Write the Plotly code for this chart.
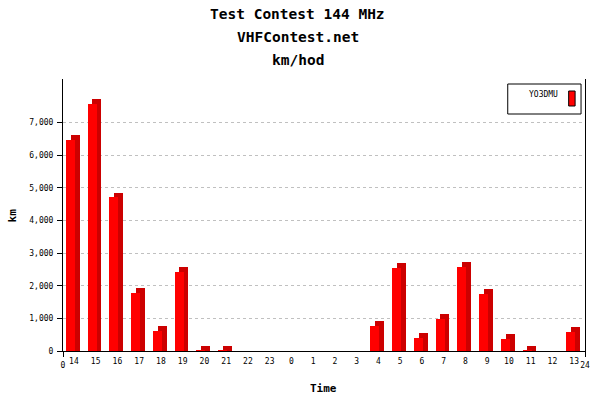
import plotly.graph_objects as go

# ---- data ----
hours = ["14", "15", "16", "17", "18", "19", "20", "21", "22", "23",
         "0", "1", "2", "3", "4", "5", "6", "7", "8", "9", "10", "11", "12", "13"]
km = [6460, 7570, 4710, 1780, 610, 2420, 20, 20, 0, 0,
      0, 0, 0, 0, 770, 2540, 400, 980, 2570, 1750, 370, 20, 0, 580]
series_name = "YO3DMU"
y_ticks = [0, 1000, 2000, 3000, 4000, 5000, 6000, 7000]
edge_ticks = [0, 24]
edge_labels = ["0", "24"]
titles = ["Test Contest 144 MHz", "VHFContest.net", "km/hod"]

# ---- geometry / style ----
W, H = 600, 400
L, R, T, B = 63, 10, 79, 49
PW, PH = W - L - R, H - T - B
YMAX = 8330
DEPTH_KM = 144          # 3D depth expressed in y units (~4.7 px)
MONO = "DejaVu Sans Mono"


def px_x(px):
    return (px - L) / PW


def px_y(py):
    return 1 - (py - T) / PH


front_color = "#ff0000"
side_color = "#cc0000"

fig = go.Figure()

# back (3D side/top) face
fig.add_trace(go.Bar(
    x=hours, y=[v + DEPTH_KM if v > 0 else 0 for v in km], base=0,
    offset=-0.149, width=0.41,
    marker=dict(color=side_color, line=dict(width=0)),
    showlegend=False, hoverinfo="skip",
))
# front face
fig.add_trace(go.Bar(
    x=hours, y=km, name=series_name,
    offset=-0.363, width=0.41,
    marker=dict(color=front_color, line=dict(width=0)),
    showlegend=False,
))
# helper trace for the 0 / 24 edge axis
fig.add_trace(go.Scatter(
    x=edge_ticks, y=[0, 0], xaxis="x2", mode="none",
    showlegend=False, hoverinfo="skip",
))

tick_font = dict(family=MONO, size=8, color="black")

fig.update_layout(
    width=W, height=H, autosize=False,
    margin=dict(l=L, r=R, t=T, b=B),
    paper_bgcolor="white", plot_bgcolor="white",
    barmode="overlay", bargap=0,
    showlegend=False,
    xaxis=dict(
        type="category", categoryorder="array", categoryarray=hours,
        range=[-0.5, 23.5], showline=True, linecolor="black", linewidth=1,
        ticks="", showgrid=False, zeroline=False, tickfont=tick_font,
        fixedrange=True, ticklabelstandoff=2,
    ),
    xaxis2=dict(
        overlaying="x", anchor="y", side="bottom", range=[0, 24],
        tickvals=edge_ticks, ticktext=edge_labels, ticks="outside",
        ticklen=5, tickcolor="black", tickwidth=1, showline=False,
        showgrid=False, zeroline=False, tickfont=tick_font,
        ticklabelstandoff=1,
    ),
    yaxis=dict(
        range=[0, YMAX], tickvals=y_ticks, tickformat=",d",
        ticks="outside", ticklen=5, tickcolor="black", tickwidth=1,
        showline=True, mirror=True, linecolor="black", linewidth=1,
        showgrid=True, gridcolor="#c0c0c0", griddash="3px,3px", gridwidth=1,
        zeroline=False, tickfont=tick_font, ticklabelstandoff=2,
    ),
)

# titles
title_y = [14, 37, 60]
for txt, py in zip(titles, title_y):
    fig.add_annotation(
        text=txt, xref="paper", yref="paper", x=px_x(300), y=px_y(py),
        xanchor="center", yanchor="middle", showarrow=False,
        font=dict(family=MONO, size=14.5, color="black", weight="bold"),
    )

# axis titles
fig.add_annotation(
    text="km", xref="paper", yref="paper", x=px_x(12), y=px_y(215),
    xanchor="center", yanchor="middle", showarrow=False, textangle=-90,
    font=dict(family=MONO, size=11, color="black", weight="bold"),
)
fig.add_annotation(
    text="Time", xref="paper", yref="paper", x=px_x(326), y=px_y(388),
    xanchor="center", yanchor="middle", showarrow=False,
    font=dict(family=MONO, size=11, color="black", weight="bold"),
)

# legend box
fig.add_shape(type="rect", xref="paper", yref="paper",
              x0=px_x(512), x1=px_x(586), y0=px_y(114), y1=px_y(84),
              line=dict(color="black", width=1), fillcolor="white", layer="above")
fig.add_shape(type="rect", xref="paper", yref="paper",
              x0=px_x(573.5), x1=px_x(580), y0=px_y(106), y1=px_y(91),
              line=dict(color="black", width=1), fillcolor=front_color, layer="above")
fig.add_annotation(
    text=series_name, xref="paper", yref="paper", x=px_x(565), y=px_y(94),
    xanchor="right", yanchor="middle", showarrow=False,
    font=dict(family=MONO, size=8, color="black"),
)

fig.write_html(
    "out.html",
    config={"displayModeBar": False},
    post_script="document.body.style.margin='0px';document.body.style.overflow='hidden';",
)
